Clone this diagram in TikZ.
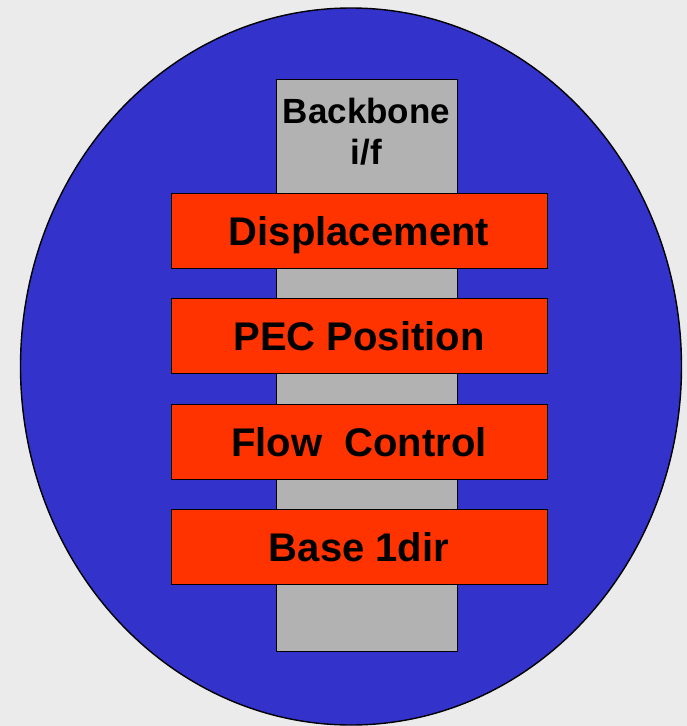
\documentclass[tikz,border=0pt]{standalone}
\usepackage{fontspec}
\setmainfont{Liberation Sans}
\usetikzlibrary{shapes.geometric}

\definecolor{bggray}{HTML}{EBEBEB}
\definecolor{disc}{HTML}{3333CC}
\definecolor{barg}{HTML}{B2B2B2}
\definecolor{layred}{HTML}{FF3300}

\begin{document}
\begin{tikzpicture}[
    x=1pt, y=-1pt,
    layer/.style={rectangle, draw=black, line width=1pt, fill=layred, minimum width=376pt, minimum height=75pt, inner sep=0pt, text height=29pt, text depth=0pt, align=center, font=\fontsize{40}{44}\selectfont\bfseries},
    backbone/.style={rectangle, draw=black, line width=1pt, fill=barg, minimum width=181pt, minimum height=572pt, inner sep=0pt}
]

\fill[bggray] (0,0) rectangle (687,726);
\useasboundingbox (0,0) rectangle (687,726);

\node[ellipse, draw=black, line width=1.4pt, fill=disc, minimum width=661pt, minimum height=717pt, inner sep=0pt] (Disc) at (351,366.5) {};

\node[backbone] (Bar) at (366.5,365) {};
\node[font=\fontsize{35}{41}\selectfont\bfseries, align=center, anchor=north] (BarLabel) at (Bar.north) [yshift=-16pt] {Backbone\\i/f};

\node[layer] (L1) at (359,230.5) {Displacement};
\node[layer] (L2) at (359,335.5) {PEC Position};
\node[layer] (L3) at (359,441.5) {Flow\ \ Control};
\node[layer] (L4) at (359,546.5) {Base 1dir};
\end{tikzpicture}
\end{document}
